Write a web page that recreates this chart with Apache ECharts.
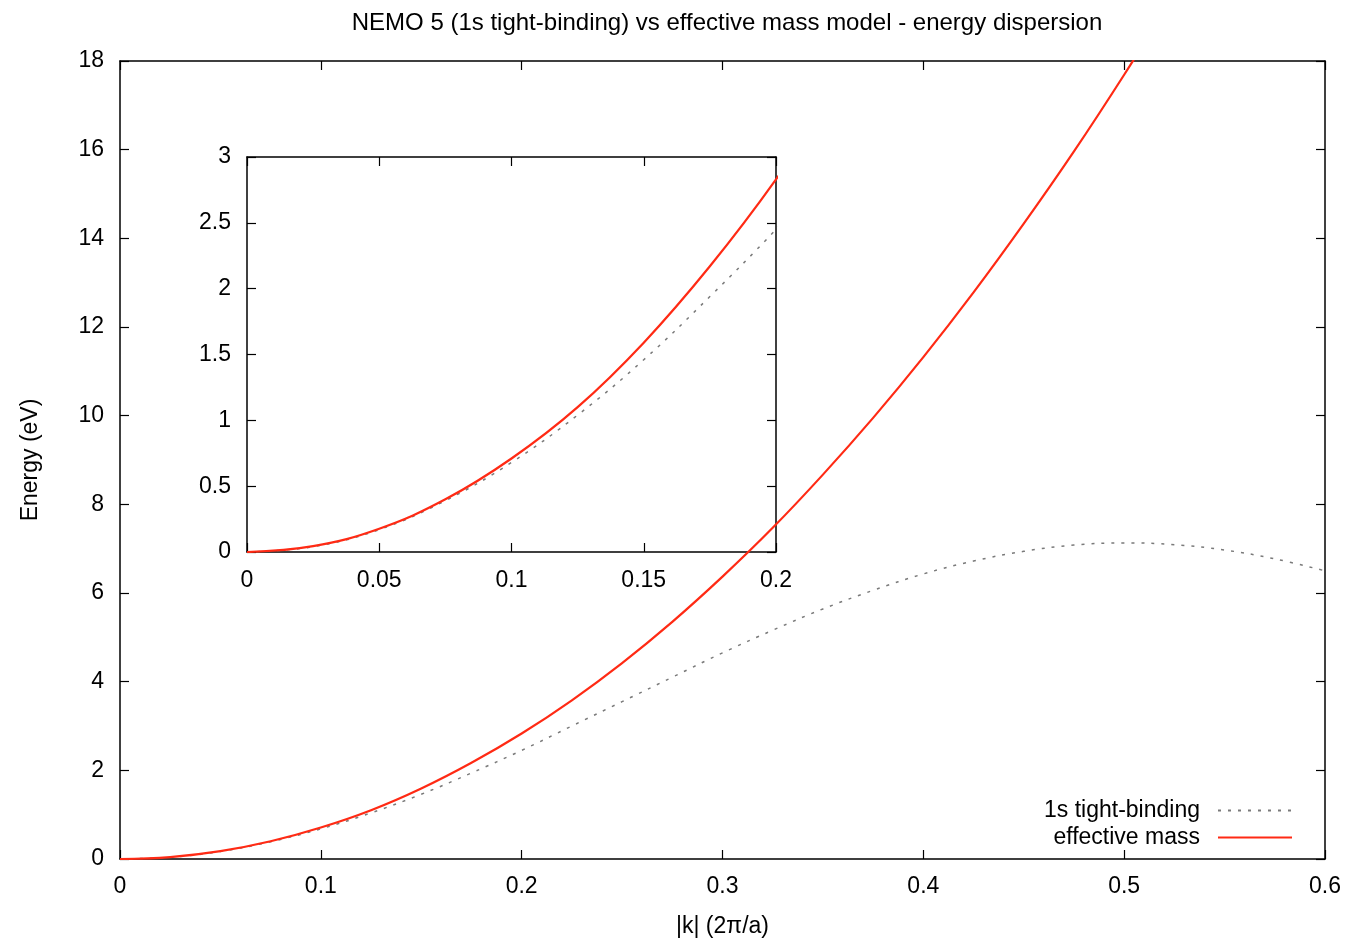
<!DOCTYPE html>
<html>
<head>
<meta charset="utf-8">
<script src="https://cdn.jsdelivr.net/npm/echarts@6/dist/echarts.min.js"></script>
<style>
  html, body { margin: 0; padding: 0; background: #fff; }
  #main { width: 1349px; height: 943px; }
</style>
</head>
<body>
<div id="main"></div>
<script>
// |k| in units of 2pi/a
var kValues = [0, 0.025, 0.05, 0.075, 0.1, 0.125, 0.15, 0.175, 0.2, 0.225, 0.25, 0.275, 0.3,
    0.325, 0.35, 0.375, 0.4, 0.425, 0.45, 0.475, 0.5, 0.525, 0.55, 0.575, 0.6];
// 1s tight-binding (grey dotted)
var tightBinding = [0, 0.04, 0.17, 0.39, 0.68, 1.04, 1.46, 1.94, 2.45, 3.0, 3.55, 4.1, 4.65,
    5.16, 5.64, 6.06, 6.43, 6.72, 6.94, 7.08, 7.13, 7.09, 6.97, 6.77, 6.5];
// effective mass model (red), leaves the frame at the top
var effMassK = [0, 0.025, 0.05, 0.075, 0.1, 0.125, 0.15, 0.175, 0.2, 0.225, 0.25, 0.275, 0.3,
    0.325, 0.35, 0.375, 0.4, 0.425, 0.45, 0.475, 0.5, 0.525];
var effMass = [0, 0.044, 0.177, 0.4, 0.71, 1.1, 1.59, 2.17, 2.83, 3.58, 4.42, 5.35, 6.37,
    7.47, 8.67, 9.95, 11.32, 12.78, 14.33, 15.96, 17.69, 19.5];

var mainXTicks = [0, 0.6, 0.1];
var mainYTicks = [0, 18, 2];
var insetXTicks = [0, 0.2, 0.05];
var insetYTicks = [0, 3, 0.5];

function pairs(xs, ys) {
    return xs.map(function(x, i) { return [x, ys[i]]; });
}

var font = 'Liberation Sans, Arial, Helvetica, sans-serif';
var fs = 23;
var tbName = '1s tight-binding';
var emName = 'effective mass';

function makeAxis(t, grid, pos, showLabel, margin) {
    return {
        type: 'value',
        gridIndex: grid,
        position: pos,
        min: t[0], max: t[1], interval: t[2],
        axisLine: { show: true, onZero: false, lineStyle: { color: '#000', width: 1.5 } },
        axisTick: { show: true, inside: true, length: 9, lineStyle: { color: '#000', width: 1.2 } },
        splitLine: { show: false },
        axisLabel: {
            show: showLabel, color: '#000', fontSize: fs, fontFamily: font, margin: margin,
            formatter: function(v) { return String(+v.toFixed(3)); }
        }
    };
}

var myChart = echarts.init(document.getElementById('main'));

var xMain = makeAxis(mainXTicks, 0, 'bottom', true, 16);
xMain.name = '|k| (2\u03c0/a)';
xMain.nameLocation = 'middle';
xMain.nameGap = 56;
xMain.nameTextStyle = { color: '#000', fontSize: fs, fontFamily: font };
var yMain = makeAxis(mainYTicks, 0, 'left', true, 16);
yMain.name = 'Energy (eV)';
yMain.nameLocation = 'middle';
yMain.nameGap = 78;
yMain.nameTextStyle = { color: '#000', fontSize: fs, fontFamily: font };

var tbLine = { color: '#7a7a7a', width: 1.5, type: [3, 7] };
var emLine = { color: '#ff2a14', width: 2.2 };

option = {
    backgroundColor: '#fff',
    animation: false,
    title: {
        text: 'NEMO 5 (1s tight-binding) vs effective mass model - energy dispersion',
        left: 722, top: 6, textAlign: 'center',
        textStyle: { color: '#000', fontSize: 24, fontWeight: 'normal', fontFamily: font }
    },
    legend: {
        orient: 'vertical',
        right: 51, top: 792,
        align: 'right',
        itemWidth: 74, itemHeight: 14, itemGap: 0,
        itemStyle: { opacity: 0, borderWidth: 0 },
        textStyle: { color: '#000', fontSize: fs, fontFamily: font, lineHeight: 27, padding: [0, 13, 0, 0] },
        data: [tbName, emName]
    },
    grid: [
        { left: 120, right: 24, top: 61, bottom: 82 },
        { left: 247, top: 157, width: 529, height: 395 }
    ],
    xAxis: [
        xMain,
        makeAxis(mainXTicks, 0, 'top', false, 8),
        makeAxis(insetXTicks, 1, 'bottom', true, 17),
        makeAxis(insetXTicks, 1, 'top', false, 8)
    ],
    yAxis: [
        yMain,
        makeAxis(mainYTicks, 0, 'right', false, 8),
        makeAxis(insetYTicks, 1, 'left', true, 16),
        makeAxis(insetYTicks, 1, 'right', false, 8)
    ],
    series: [
        {
            name: tbName, type: 'line', xAxisIndex: 0, yAxisIndex: 0,
            showSymbol: false, symbol: 'none', smooth: 0.4, clip: true,
            lineStyle: tbLine, itemStyle: { color: '#7a7a7a' },
            data: pairs(kValues, tightBinding)
        },
        {
            name: emName, type: 'line', xAxisIndex: 0, yAxisIndex: 0,
            showSymbol: false, symbol: 'none', smooth: 0.4, clip: true,
            lineStyle: emLine, itemStyle: { color: '#ff2a14' },
            data: pairs(effMassK, effMass)
        },
        {
            name: tbName, type: 'line', xAxisIndex: 2, yAxisIndex: 2,
            showSymbol: false, symbol: 'none', smooth: 0.4, clip: true,
            lineStyle: tbLine, itemStyle: { color: '#7a7a7a' },
            data: pairs(kValues, tightBinding)
        },
        {
            name: emName, type: 'line', xAxisIndex: 2, yAxisIndex: 2,
            showSymbol: false, symbol: 'none', smooth: 0.4, clip: true,
            lineStyle: emLine, itemStyle: { color: '#ff2a14' },
            data: pairs(effMassK, effMass)
        }
    ]
};

myChart.setOption(option);
</script>
</body>
</html>
